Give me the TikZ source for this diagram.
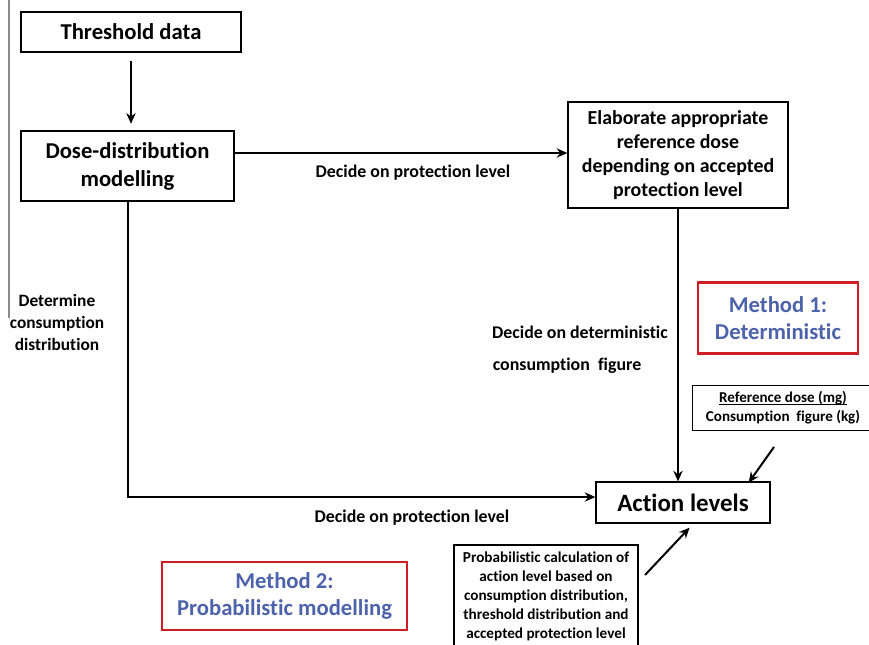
\documentclass[tikz,border=0pt]{standalone}
\usepackage{fontspec}
\setmainfont{Carlito}[Ligatures={NoCommon}]
\usetikzlibrary{arrows.meta}
\definecolor{mblue}{RGB}{76,98,170}
\definecolor{mred}{RGB}{208,30,38}
\definecolor{lgray}{RGB}{140,140,140}
\newcommand\myul[1]{\setbox0\hbox{#1}\rlap{\rule[-2pt]{\wd0}{0.8pt}}\box0}
\begin{document}
\begin{tikzpicture}[x=0.75pt,y=-0.75pt,
  box/.style={draw=black, line width=0.9pt, inner sep=0pt, align=center},
  arr/.style={line width=1.5pt, -{Stealth[length=8pt,width=7pt]}},
  lbl/.style={font=\fontsize{13.4}{16.5}\selectfont\bfseries, inner sep=0pt, align=center},
  mbox/.style={draw=mred, line width=2pt, inner sep=0pt, align=center, text=mblue,
    font=\fontsize{17}{20.5}\selectfont\bfseries}]
\useasboundingbox (0,0) rectangle (869,644);

% left grey line
\draw[lgray, line width=1pt] (9,0) -- (9,318);

% boxes
\node[box, minimum width=165pt, minimum height=30pt,
  font=\fontsize{17}{20}\selectfont\bfseries] (td) at (131,32) {Threshold data};
\node[box, minimum width=159.75pt, minimum height=52.5pt,
  font=\fontsize{17}{21}\selectfont\bfseries] (dd) at (127.5,166) {Dose-distribution\\modelling};
\node[box, minimum width=165pt, minimum height=79.5pt,
  font=\fontsize{14.9}{18}\selectfont\bfseries] (el) at (678,155)
  {Elaborate appropriate\\reference dose\\depending on accepted\\protection level};
\node[mbox, minimum width=120pt, minimum height=53.25pt] (m1) at (778,318) {Method 1:\\Deterministic};
\node[box, minimum width=135.75pt, minimum height=33.75pt,
  font=\fontsize{11.3}{14.25}\selectfont\bfseries] (rd) at (783,408)
  {\myul{Reference dose (mg)}\\Consumption\ \ figure (kg)};
\node[box, minimum width=130.5pt, minimum height=30.75pt,
  font=\fontsize{18.7}{22}\selectfont\bfseries] (al) at (683,502.5) {Action levels};
\node[box, minimum width=138pt, minimum height=77.25pt,
  font=\fontsize{11.4}{14.25}\selectfont\bfseries] (pc) at (546,596.5)
  {Probabilistic calculation of\\action level based on\\consumption distribution,\\threshold distribution and\\accepted protection level};
\node[mbox, minimum width=183.75pt, minimum height=51pt] (m2) at (284.5,596) {Method 2:\\Probabilistic modelling};

% labels
\node[lbl] (l1) at (413,173) {Decide on protection level};
\node[lbl] (l2) at (580,332) {Decide on deterministic};
\node[lbl] (l3) at (567,366) {consumption\ \ figure};
\node[lbl] (l4) at (412,518) {Decide on protection level};
\node[lbl, font=\fontsize{13}{16.5}\selectfont\bfseries] (l5) at (57,322) {Determine\\consumption\\distribution};

% connectors
\draw[arr, shorten <=6pt, shorten >=5pt] (td.south) -- (td.south |- dd.north);
\draw[arr] ([yshift=9.75pt]dd.east) -- ([yshift=9.75pt]dd.east -| el.west);
\draw[arr] (el.south) -- (el.south |- al.north);
\draw[arr] (dd.south) |- ([yshift=4.1pt]al.west);
\coordinate (rdA) at (774,447);
\draw[arr] (rdA) -- ([xshift=-16.5pt,yshift=-1pt]al.north east);
\coordinate (pcA) at (645,575);
\draw[arr] (pcA) -- ([xshift=5pt,yshift=-3pt]al.south);
\end{tikzpicture}
\end{document}
